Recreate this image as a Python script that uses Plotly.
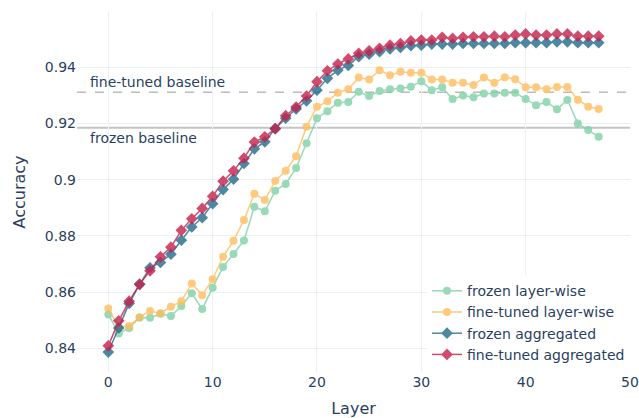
import plotly.graph_objects as go

layers = list(range(48))

frozen_layerwise = [0.8521, 0.8453, 0.8473, 0.8510, 0.8509, 0.8523, 0.8515, 0.8551, 0.8596, 0.8540,
                    0.8616, 0.8690, 0.8736, 0.8784, 0.8904, 0.8888, 0.8961, 0.8985, 0.9042, 0.9130,
                    0.9219, 0.9244, 0.9274, 0.9277, 0.9313, 0.9298, 0.9316, 0.9322, 0.9325, 0.9331,
                    0.9351, 0.9319, 0.9329, 0.9287, 0.9300, 0.9294, 0.9307, 0.9307, 0.9310, 0.9310,
                    0.9287, 0.9265, 0.9277, 0.9251, 0.9284, 0.9200, 0.9177, 0.9153]

finetuned_layerwise = [0.8542, 0.8477, 0.8480, 0.8510, 0.8533, 0.8525, 0.8548, 0.8568, 0.8631, 0.8589,
                       0.8646, 0.8726, 0.8783, 0.8857, 0.8950, 0.8928, 0.8996, 0.9032, 0.9084, 0.9189,
                       0.9260, 0.9279, 0.9310, 0.9322, 0.9364, 0.9357, 0.9390, 0.9372, 0.9384, 0.9381,
                       0.9381, 0.9357, 0.9357, 0.9345, 0.9345, 0.9337, 0.9364, 0.9345, 0.9365, 0.9358,
                       0.9329, 0.9329, 0.9322, 0.9330, 0.9330, 0.9285, 0.9260, 0.9252]

frozen_aggregated = [0.8387, 0.8473, 0.8560, 0.8628, 0.8687, 0.8706, 0.8735, 0.8785, 0.8832, 0.8865,
                     0.8915, 0.8965, 0.9002, 0.9058, 0.9110, 0.9135, 0.9182, 0.9219, 0.9252, 0.9281,
                     0.9319, 0.9361, 0.9390, 0.9407, 0.9438, 0.9447, 0.9456, 0.9466, 0.9471, 0.9477,
                     0.9479, 0.9483, 0.9483, 0.9483, 0.9485, 0.9485, 0.9485, 0.9485, 0.9485, 0.9488,
                     0.9488, 0.9488, 0.9488, 0.9491, 0.9491, 0.9488, 0.9488, 0.9488]

finetuned_aggregated = [0.8409, 0.8498, 0.8568, 0.8628, 0.8676, 0.8726, 0.8760, 0.8820, 0.8861, 0.8898,
                        0.8941, 0.8995, 0.9032, 0.9077, 0.9134, 0.9153, 0.9182, 0.9228, 0.9259, 0.9298,
                        0.9349, 0.9388, 0.9412, 0.9430, 0.9450, 0.9459, 0.9468, 0.9479, 0.9485, 0.9494,
                        0.9497, 0.9497, 0.9507, 0.9503, 0.9507, 0.9509, 0.9509, 0.9511, 0.9509, 0.9515,
                        0.9519, 0.9515, 0.9515, 0.9519, 0.9519, 0.9511, 0.9511, 0.9511]

frozen_baseline = 0.9185
finetuned_baseline = 0.9311

series = [
    ("frozen layer-wise", frozen_layerwise, "#7fd0a6", "circle", 8),
    ("fine-tuned layer-wise", finetuned_layerwise, "#ffbe5e", "circle", 8),
    ("frozen aggregated", frozen_aggregated, "#226a8c", "diamond", 9),
    ("fine-tuned aggregated", finetuned_aggregated, "#c5204b", "diamond", 9),
]

fig = go.Figure()
for name, vals, color, symbol, size in series:
    fig.add_trace(go.Scatter(
        x=layers, y=vals, name=name, mode="lines+markers",
        line=dict(color=color, width=1.5),
        marker=dict(color=color, symbol=symbol, size=size),
        opacity=0.8,
    ))

fig.add_hline(y=finetuned_baseline, line=dict(color="#bbbbbb", width=1.5, dash="dash"), layer="below")
fig.add_hline(y=frozen_baseline, line=dict(color="#c4c4c4", width=2), layer="below")

fig.add_annotation(x=0.02, xref="paper", y=finetuned_baseline, yref="y", text="fine-tuned baseline",
                   showarrow=False, xanchor="left", yanchor="bottom", font=dict(size=14, color="#2a3f5f"))
fig.add_annotation(x=0.02, xref="paper", y=frozen_baseline, yref="y", text="frozen baseline",
                   showarrow=False, xanchor="left", yanchor="top", font=dict(size=14, color="#2a3f5f"))

fig.update_layout(
    template="plotly_white",
    width=639, height=418,
    margin=dict(l=77, r=9, t=12, b=46),
    font=dict(family="DejaVu Sans", size=14, color="#2a3f5f"),
    legend=dict(x=1, y=0.005, xanchor="right", yanchor="bottom", font=dict(size=14)),
    xaxis=dict(title=dict(text="Layer", font=dict(size=16)), range=[-3, 50], dtick=10,
               zeroline=False, showgrid=True, automargin=False, ticklabeloverflow="allow"),
    yaxis=dict(title=dict(text="Accuracy", font=dict(size=16)), range=[0.8316, 0.9597], dtick=0.02,
               zeroline=False, showgrid=True, automargin=False),
)

fig.write_html("out.html", config={"displayModeBar": False},
               post_script="document.body.style.margin='0';document.body.style.overflow='hidden';")
